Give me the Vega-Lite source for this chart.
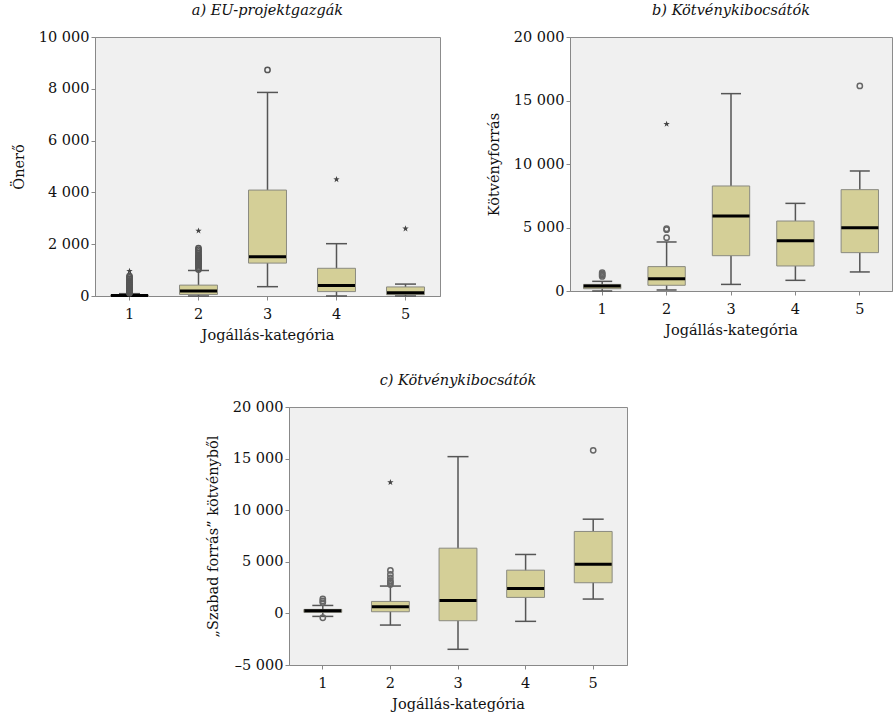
{
  "$schema": "https://vega.github.io/schema/vega-lite/v6.json",
  "padding": {"left": 10, "top": 2, "right": 0, "bottom": 0},
  "background": "white",
  "config": {
    "font": "DejaVu Serif",
    "locale": {"number": {"decimal": ",", "thousands": " ", "grouping": [3], "currency": ["", ""], "minus": "–"}},
    "axis": {"labelFont": "DejaVu Serif", "titleFont": "DejaVu Serif", "labelFontSize": 14.5, "titleFontSize": 14.5, "titleFontWeight": "normal", "labelColor": "#111", "titleColor": "#111", "domainColor": "#888", "tickColor": "#888", "tickSize": 4, "grid": false},
    "axisY": {"labelPadding": 2, "titlePadding": 12},
    "axisX": {"labelPadding": 7, "titlePadding": 8},
    "title": {"font": "DejaVu Serif", "fontSize": 14.5, "fontStyle": "italic", "fontWeight": "normal", "color": "#111", "offset": 11},
    "tick": {"opacity": 1},
    "point": {"opacity": 1}
  },
  "datasets": {
    "box": [
      {"panel": "a", "cat": 1, "lo": 0, "q1": 0, "med": 15, "q3": 40, "hi": 90},
      {"panel": "a", "cat": 2, "lo": 0, "q1": 60, "med": 190, "q3": 420, "hi": 985},
      {"panel": "a", "cat": 3, "lo": 360, "q1": 1270, "med": 1520, "q3": 4090, "hi": 7860},
      {"panel": "a", "cat": 4, "lo": 0, "q1": 170, "med": 410, "q3": 1070, "hi": 2020},
      {"panel": "a", "cat": 5, "lo": 0, "q1": 50, "med": 130, "q3": 350, "hi": 460},
      {"panel": "b", "cat": 1, "lo": 0, "q1": 180, "med": 390, "q3": 520, "hi": 760},
      {"panel": "b", "cat": 2, "lo": 80, "q1": 450, "med": 970, "q3": 1920, "hi": 3860},
      {"panel": "b", "cat": 3, "lo": 520, "q1": 2780, "med": 5900, "q3": 8270, "hi": 15540},
      {"panel": "b", "cat": 4, "lo": 840, "q1": 1970, "med": 3960, "q3": 5510, "hi": 6900},
      {"panel": "b", "cat": 5, "lo": 1500, "q1": 3020, "med": 4990, "q3": 7980, "hi": 9450},
      {"panel": "c", "cat": 1, "lo": -290, "q1": 100, "med": 260, "q3": 390, "hi": 770},
      {"panel": "c", "cat": 2, "lo": -1130, "q1": 160, "med": 650, "q3": 1160, "hi": 2650},
      {"panel": "c", "cat": 3, "lo": -3480, "q1": -710, "med": 1260, "q3": 6320, "hi": 15190},
      {"panel": "c", "cat": 4, "lo": -770, "q1": 1550, "med": 2420, "q3": 4190, "hi": 5710},
      {"panel": "c", "cat": 5, "lo": 1390, "q1": 2970, "med": 4770, "q3": 7940, "hi": 9130}
    ],
    "out": [
      {"panel": "a", "cat": 1, "v": 110, "kind": "circle"},
      {"panel": "a", "cat": 1, "v": 140, "kind": "circle"},
      {"panel": "a", "cat": 1, "v": 170, "kind": "circle"},
      {"panel": "a", "cat": 1, "v": 200, "kind": "circle"},
      {"panel": "a", "cat": 1, "v": 230, "kind": "circle"},
      {"panel": "a", "cat": 1, "v": 260, "kind": "circle"},
      {"panel": "a", "cat": 1, "v": 290, "kind": "circle"},
      {"panel": "a", "cat": 1, "v": 320, "kind": "circle"},
      {"panel": "a", "cat": 1, "v": 350, "kind": "circle"},
      {"panel": "a", "cat": 1, "v": 380, "kind": "circle"},
      {"panel": "a", "cat": 1, "v": 420, "kind": "circle"},
      {"panel": "a", "cat": 1, "v": 460, "kind": "circle"},
      {"panel": "a", "cat": 1, "v": 500, "kind": "circle"},
      {"panel": "a", "cat": 1, "v": 550, "kind": "circle"},
      {"panel": "a", "cat": 1, "v": 600, "kind": "circle"},
      {"panel": "a", "cat": 1, "v": 660, "kind": "circle"},
      {"panel": "a", "cat": 1, "v": 720, "kind": "circle"},
      {"panel": "a", "cat": 1, "v": 770, "kind": "circle"},
      {"panel": "a", "cat": 1, "v": 960, "kind": "star"},
      {"panel": "a", "cat": 2, "v": 1020, "kind": "circle"},
      {"panel": "a", "cat": 2, "v": 1080, "kind": "circle"},
      {"panel": "a", "cat": 2, "v": 1140, "kind": "circle"},
      {"panel": "a", "cat": 2, "v": 1190, "kind": "circle"},
      {"panel": "a", "cat": 2, "v": 1240, "kind": "circle"},
      {"panel": "a", "cat": 2, "v": 1290, "kind": "circle"},
      {"panel": "a", "cat": 2, "v": 1330, "kind": "circle"},
      {"panel": "a", "cat": 2, "v": 1370, "kind": "circle"},
      {"panel": "a", "cat": 2, "v": 1410, "kind": "circle"},
      {"panel": "a", "cat": 2, "v": 1450, "kind": "circle"},
      {"panel": "a", "cat": 2, "v": 1490, "kind": "circle"},
      {"panel": "a", "cat": 2, "v": 1530, "kind": "circle"},
      {"panel": "a", "cat": 2, "v": 1580, "kind": "circle"},
      {"panel": "a", "cat": 2, "v": 1650, "kind": "circle"},
      {"panel": "a", "cat": 2, "v": 1720, "kind": "circle"},
      {"panel": "a", "cat": 2, "v": 1790, "kind": "circle"},
      {"panel": "a", "cat": 2, "v": 1850, "kind": "circle"},
      {"panel": "a", "cat": 2, "v": 2520, "kind": "star"},
      {"panel": "a", "cat": 3, "v": 8730, "kind": "circle"},
      {"panel": "a", "cat": 4, "v": 4500, "kind": "star"},
      {"panel": "a", "cat": 5, "v": 2600, "kind": "star"},
      {"panel": "b", "cat": 1, "v": 1150, "kind": "circle"},
      {"panel": "b", "cat": 1, "v": 1250, "kind": "circle"},
      {"panel": "b", "cat": 1, "v": 1340, "kind": "circle"},
      {"panel": "b", "cat": 1, "v": 1450, "kind": "circle"},
      {"panel": "b", "cat": 2, "v": 4200, "kind": "circle"},
      {"panel": "b", "cat": 2, "v": 4830, "kind": "circle"},
      {"panel": "b", "cat": 2, "v": 4900, "kind": "circle"},
      {"panel": "b", "cat": 2, "v": 13150, "kind": "star"},
      {"panel": "b", "cat": 5, "v": 16150, "kind": "circle"},
      {"panel": "c", "cat": 1, "v": 1050, "kind": "circle"},
      {"panel": "c", "cat": 1, "v": 1200, "kind": "circle"},
      {"panel": "c", "cat": 1, "v": 1400, "kind": "circle"},
      {"panel": "c", "cat": 1, "v": -420, "kind": "circle"},
      {"panel": "c", "cat": 2, "v": 2800, "kind": "circle"},
      {"panel": "c", "cat": 2, "v": 3000, "kind": "circle"},
      {"panel": "c", "cat": 2, "v": 3150, "kind": "circle"},
      {"panel": "c", "cat": 2, "v": 3450, "kind": "circle"},
      {"panel": "c", "cat": 2, "v": 3780, "kind": "circle"},
      {"panel": "c", "cat": 2, "v": 4160, "kind": "circle"},
      {"panel": "c", "cat": 2, "v": 12700, "kind": "star"},
      {"panel": "c", "cat": 5, "v": 15800, "kind": "circle"}
    ]
  },
  "spacing": 29,
  "vconcat": [
    {
      "spacing": 44,
      "hconcat": [
        {
          "width": 345, "height": 259,
          "title": "a) EU-projektgazgák",
          "view": {"fill": "#f0f0f0", "stroke": "#8c8c8c"},
          "layer": [
            {"data": {"name": "box"}, "transform": [{"filter": "datum.panel == 'a'"}],
             "mark": {"type": "rule", "color": "#555", "strokeWidth": 1.5},
             "encoding": {
               "x": {"field": "cat", "type": "ordinal", "title": "Jogállás-kategória", "scale": {"paddingInner": 0.45, "paddingOuter": 0.225}, "axis": {"labelAngle": 0}},
               "y": {"field": "lo", "type": "quantitative", "title": "Önerő", "scale": {"domain": [0, 10000], "nice": false}, "axis": {"values": [0, 2000, 4000, 6000, 8000, 10000]}},
               "y2": {"field": "hi"}}},
            {"data": {"name": "box"}, "transform": [{"filter": "datum.panel == 'a'"}],
             "mark": {"type": "bar", "fill": "#d4cf97", "stroke": "#8a8a80", "strokeWidth": 1},
             "encoding": {"x": {"field": "cat", "type": "ordinal", "title": "Jogállás-kategória"}, "y": {"field": "q1", "type": "quantitative", "title": "Önerő"}, "y2": {"field": "q3"}}},
            {"data": {"name": "box"}, "transform": [{"filter": "datum.panel == 'a'"}],
             "mark": {"type": "tick", "color": "#555", "size": 21, "thickness": 1.5},
             "encoding": {"x": {"field": "cat", "type": "ordinal", "title": "Jogállás-kategória"}, "y": {"field": "hi", "type": "quantitative", "title": "Önerő"}}},
            {"data": {"name": "box"}, "transform": [{"filter": "datum.panel == 'a'"}],
             "mark": {"type": "tick", "color": "#555", "size": 21, "thickness": 1.5},
             "encoding": {"x": {"field": "cat", "type": "ordinal", "title": "Jogállás-kategória"}, "y": {"field": "lo", "type": "quantitative", "title": "Önerő"}}},
            {"data": {"name": "box"}, "transform": [{"filter": "datum.panel == 'a'"}],
             "mark": {"type": "tick", "color": "#000", "size": 37, "thickness": 3},
             "encoding": {"x": {"field": "cat", "type": "ordinal", "title": "Jogállás-kategória"}, "y": {"field": "med", "type": "quantitative", "title": "Önerő"}}},
            {"data": {"name": "out"}, "transform": [{"filter": "datum.panel == 'a' && datum.kind == 'circle'"}],
             "mark": {"type": "point", "shape": "circle", "filled": false, "stroke": "#555", "strokeWidth": 1.5, "size": 28},
             "encoding": {"x": {"field": "cat", "type": "ordinal", "title": "Jogállás-kategória"}, "y": {"field": "v", "type": "quantitative", "title": "Önerő"}}},
            {"data": {"name": "out"}, "transform": [{"filter": "datum.panel == 'a' && datum.kind == 'star'"}],
             "mark": {"type": "point", "shape": "M0,-1L0.24,-0.33L0.95,-0.31L0.38,0.12L0.59,0.81L0,0.4L-0.59,0.81L-0.38,0.12L-0.95,-0.31L-0.24,-0.33Z", "filled": true, "color": "#444", "size": 45, "opacity": 1},
             "encoding": {"x": {"field": "cat", "type": "ordinal", "title": "Jogállás-kategória"}, "y": {"field": "v", "type": "quantitative", "title": "Önerő"}}}
          ]
        },
        {
          "width": 322, "height": 254,
          "title": "b) Kötvénykibocsátók",
          "view": {"fill": "#f0f0f0", "stroke": "#8c8c8c"},
          "layer": [
            {"data": {"name": "box"}, "transform": [{"filter": "datum.panel == 'b'"}],
             "mark": {"type": "rule", "color": "#555", "strokeWidth": 1.5},
             "encoding": {
               "x": {"field": "cat", "type": "ordinal", "title": "Jogállás-kategória", "scale": {"paddingInner": 0.42, "paddingOuter": 0.21}, "axis": {"labelAngle": 0}},
               "y": {"field": "lo", "type": "quantitative", "title": "Kötvényforrás", "scale": {"domain": [0, 20000], "nice": false}, "axis": {"values": [0, 5000, 10000, 15000, 20000]}},
               "y2": {"field": "hi"}}},
            {"data": {"name": "box"}, "transform": [{"filter": "datum.panel == 'b'"}],
             "mark": {"type": "bar", "fill": "#d4cf97", "stroke": "#8a8a80", "strokeWidth": 1},
             "encoding": {"x": {"field": "cat", "type": "ordinal", "title": "Jogállás-kategória"}, "y": {"field": "q1", "type": "quantitative", "title": "Kötvényforrás"}, "y2": {"field": "q3"}}},
            {"data": {"name": "box"}, "transform": [{"filter": "datum.panel == 'b'"}],
             "mark": {"type": "tick", "color": "#555", "size": 20, "thickness": 1.5},
             "encoding": {"x": {"field": "cat", "type": "ordinal", "title": "Jogállás-kategória"}, "y": {"field": "hi", "type": "quantitative", "title": "Kötvényforrás"}}},
            {"data": {"name": "box"}, "transform": [{"filter": "datum.panel == 'b'"}],
             "mark": {"type": "tick", "color": "#555", "size": 20, "thickness": 1.5},
             "encoding": {"x": {"field": "cat", "type": "ordinal", "title": "Jogállás-kategória"}, "y": {"field": "lo", "type": "quantitative", "title": "Kötvényforrás"}}},
            {"data": {"name": "box"}, "transform": [{"filter": "datum.panel == 'b'"}],
             "mark": {"type": "tick", "color": "#000", "size": 37, "thickness": 3},
             "encoding": {"x": {"field": "cat", "type": "ordinal", "title": "Jogállás-kategória"}, "y": {"field": "med", "type": "quantitative", "title": "Kötvényforrás"}}},
            {"data": {"name": "out"}, "transform": [{"filter": "datum.panel == 'b' && datum.kind == 'circle'"}],
             "mark": {"type": "point", "shape": "circle", "filled": false, "stroke": "#666", "strokeWidth": 1.5, "size": 28},
             "encoding": {"x": {"field": "cat", "type": "ordinal", "title": "Jogállás-kategória"}, "y": {"field": "v", "type": "quantitative", "title": "Kötvényforrás"}}},
            {"data": {"name": "out"}, "transform": [{"filter": "datum.panel == 'b' && datum.kind == 'star'"}],
             "mark": {"type": "point", "shape": "M0,-1L0.24,-0.33L0.95,-0.31L0.38,0.12L0.59,0.81L0,0.4L-0.59,0.81L-0.38,0.12L-0.95,-0.31L-0.24,-0.33Z", "filled": true, "color": "#444", "size": 45, "opacity": 1},
             "encoding": {"x": {"field": "cat", "type": "ordinal", "title": "Jogállás-kategória"}, "y": {"field": "v", "type": "quantitative", "title": "Kötvényforrás"}}}
          ]
        }
      ]
    },
    {
      "spacing": 10,
      "hconcat": [
        {
          "width": 99, "height": 10,
          "data": {"values": [{"z": 0}]},
          "mark": {"type": "point", "opacity": 0},
          "view": {"stroke": null, "fill": null}
        },
        {
          "width": 338, "height": 258,
          "title": "c) Kötvénykibocsátók",
          "view": {"fill": "#f0f0f0", "stroke": "#8c8c8c"},
          "layer": [
            {"data": {"name": "box"}, "transform": [{"filter": "datum.panel == 'c'"}],
             "mark": {"type": "rule", "color": "#555", "strokeWidth": 1.5},
             "encoding": {
               "x": {"field": "cat", "type": "ordinal", "title": "Jogállás-kategória", "scale": {"paddingInner": 0.44, "paddingOuter": 0.22}, "axis": {"labelAngle": 0}},
               "y": {"field": "lo", "type": "quantitative", "title": "„Szabad forrás” kötvényből", "scale": {"domain": [-5000, 20000], "nice": false}, "axis": {"values": [-5000, 0, 5000, 10000, 15000, 20000]}},
               "y2": {"field": "hi"}}},
            {"data": {"name": "box"}, "transform": [{"filter": "datum.panel == 'c'"}],
             "mark": {"type": "bar", "fill": "#d4cf97", "stroke": "#8a8a80", "strokeWidth": 1},
             "encoding": {"x": {"field": "cat", "type": "ordinal", "title": "Jogállás-kategória"}, "y": {"field": "q1", "type": "quantitative", "title": "„Szabad forrás” kötvényből"}, "y2": {"field": "q3"}}},
            {"data": {"name": "box"}, "transform": [{"filter": "datum.panel == 'c'"}],
             "mark": {"type": "tick", "color": "#555", "size": 21, "thickness": 1.5},
             "encoding": {"x": {"field": "cat", "type": "ordinal", "title": "Jogállás-kategória"}, "y": {"field": "hi", "type": "quantitative", "title": "„Szabad forrás” kötvényből"}}},
            {"data": {"name": "box"}, "transform": [{"filter": "datum.panel == 'c'"}],
             "mark": {"type": "tick", "color": "#555", "size": 21, "thickness": 1.5},
             "encoding": {"x": {"field": "cat", "type": "ordinal", "title": "Jogállás-kategória"}, "y": {"field": "lo", "type": "quantitative", "title": "„Szabad forrás” kötvényből"}}},
            {"data": {"name": "box"}, "transform": [{"filter": "datum.panel == 'c'"}],
             "mark": {"type": "tick", "color": "#000", "size": 37, "thickness": 3},
             "encoding": {"x": {"field": "cat", "type": "ordinal", "title": "Jogállás-kategória"}, "y": {"field": "med", "type": "quantitative", "title": "„Szabad forrás” kötvényből"}}},
            {"data": {"name": "out"}, "transform": [{"filter": "datum.panel == 'c' && datum.kind == 'circle'"}],
             "mark": {"type": "point", "shape": "circle", "filled": false, "stroke": "#666", "strokeWidth": 1.5, "size": 28},
             "encoding": {"x": {"field": "cat", "type": "ordinal", "title": "Jogállás-kategória"}, "y": {"field": "v", "type": "quantitative", "title": "„Szabad forrás” kötvényből"}}},
            {"data": {"name": "out"}, "transform": [{"filter": "datum.panel == 'c' && datum.kind == 'star'"}],
             "mark": {"type": "point", "shape": "M0,-1L0.24,-0.33L0.95,-0.31L0.38,0.12L0.59,0.81L0,0.4L-0.59,0.81L-0.38,0.12L-0.95,-0.31L-0.24,-0.33Z", "filled": true, "color": "#444", "size": 45, "opacity": 1},
             "encoding": {"x": {"field": "cat", "type": "ordinal", "title": "Jogállás-kategória"}, "y": {"field": "v", "type": "quantitative", "title": "„Szabad forrás” kötvényből"}}}
          ]
        }
      ]
    }
  ]
}
